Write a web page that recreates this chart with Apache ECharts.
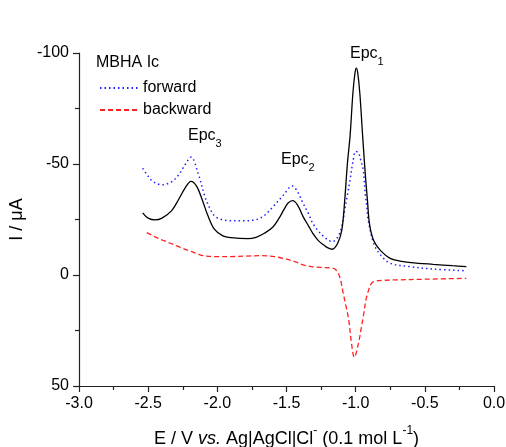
<!DOCTYPE html>
<html>
<head>
<meta charset="utf-8">
<script src="https://cdn.jsdelivr.net/npm/echarts@6/dist/echarts.min.js"></script>
<style>
  html, body { margin: 0; padding: 0; background: #fff; }
  #chart { width: 506px; height: 447px; }
</style>
</head>
<body>
<div id="chart"></div>
<script>
// Potential (V vs. Ag|AgCl|Cl-) and current (µA) pairs for each sweep
const solidCurve = [
  [-2.54, -28.0], [-2.50, -25.6], [-2.45, -24.8], [-2.40, -25.6], [-2.33, -29.0],
  [-2.28, -34.0], [-2.23, -39.5], [-2.19, -42.2], [-2.15, -40.0], [-2.11, -34.0],
  [-2.07, -27.0], [-2.02, -20.5], [-1.96, -17.6], [-1.90, -16.8], [-1.78, -16.4],
  [-1.72, -17.0], [-1.66, -18.8], [-1.60, -21.5], [-1.55, -26.0], [-1.52, -29.3],
  [-1.49, -32.3], [-1.455, -33.5], [-1.42, -31.5], [-1.38, -26.3], [-1.34, -22.0],
  [-1.31, -18.8], [-1.27, -15.5], [-1.23, -13.5], [-1.20, -12.2], [-1.17, -11.6],
  [-1.13, -14.3], [-1.10, -20.3], [-1.08, -33.0], [-1.06, -50.0], [-1.04, -63.0],
  [-1.02, -82.0], [-1.005, -91.0], [-0.995, -93.2], [-0.985, -91.0], [-0.97, -82.0],
  [-0.95, -63.0], [-0.93, -45.0], [-0.915, -33.8], [-0.90, -23.0], [-0.87, -15.5],
  [-0.82, -11.0], [-0.75, -7.5], [-0.68, -6.3], [-0.60, -5.6], [-0.44, -4.8],
  [-0.30, -4.2], [-0.20, -3.8]
];
const forwardCurve = [
  [-2.54, -48.1], [-2.50, -44.5], [-2.47, -42.3], [-2.40, -40.6], [-2.33, -42.0],
  [-2.28, -45.1], [-2.23, -50.0], [-2.19, -53.1], [-2.14, -46.0], [-2.09, -35.3],
  [-2.05, -29.5], [-2.02, -26.6], [-1.98, -25.2], [-1.92, -24.5], [-1.80, -24.4],
  [-1.73, -24.8], [-1.69, -25.6], [-1.65, -27.3], [-1.60, -30.6], [-1.52, -36.1],
  [-1.46, -40.1], [-1.42, -37.5], [-1.38, -32.3], [-1.34, -27.5], [-1.31, -23.3],
  [-1.27, -19.8], [-1.23, -17.3], [-1.20, -15.8], [-1.17, -15.0], [-1.13, -17.0],
  [-1.10, -22.0], [-1.08, -29.0], [-1.06, -36.0], [-1.04, -43.0], [-1.02, -51.0],
  [-1.00, -55.7], [-0.98, -55.0], [-0.96, -51.0], [-0.945, -47.3], [-0.93, -36.0],
  [-0.92, -31.0], [-0.91, -25.0], [-0.87, -14.3], [-0.82, -9.0], [-0.75, -5.3],
  [-0.61, -3.8], [-0.44, -2.7], [-0.20, -1.9]
];
const backwardCurve = [
  [-2.51, -19.1], [-2.45, -17.2], [-2.40, -15.8], [-2.34, -14.3], [-2.28, -12.8],
  [-2.23, -11.5], [-2.185, -10.5], [-2.13, -9.2], [-2.09, -8.6], [-2.00, -8.3],
  [-1.90, -8.3], [-1.80, -8.5], [-1.68, -8.7], [-1.60, -8.4], [-1.56, -8.0],
  [-1.50, -7.1], [-1.44, -6.0], [-1.38, -4.6], [-1.32, -3.8], [-1.25, -3.4],
  [-1.16, -3.0], [-1.12, 0.0], [-1.09, 8.3], [-1.07, 14.0], [-1.05, 20.3],
  [-1.03, 30.8], [-1.01, 37.1], [-0.98, 30.8], [-0.96, 24.0], [-0.945, 18.8],
  [-0.925, 11.0], [-0.91, 7.5], [-0.89, 4.2], [-0.87, 3.0], [-0.80, 2.4],
  [-0.70, 2.2], [-0.50, 1.9], [-0.20, 1.5]
];
const legendNames = ['forward', 'backward'];
const legendTitle = 'MBHA Ic';

const FONT = 'Liberation Sans, Arial, sans-serif';
const FS = 16;      // tick labels, legend, peak labels
const FS_NAME = 18; // axis titles
const chart = echarts.init(document.getElementById('chart'), null, { renderer: 'canvas' });

const axisCommon = {
  axisLine: { show: true, onZero: false, lineStyle: { color: '#222', width: 1.2 } },
  axisTick: { show: true, inside: false, length: 6, lineStyle: { color: '#222', width: 1.2 } },
  minorTick: { show: true, splitNumber: 2, length: 4, lineStyle: { color: '#222', width: 1.2 } },
  splitLine: { show: false },
  axisLabel: { color: '#000', fontFamily: FONT, fontSize: FS }
};

function peakLabel(text, sub, left, top) {
  return {
    type: 'text', left: left, top: top,
    style: {
      text: '{a|' + text + '}{b|' + sub + '}',
      rich: {
        a: { fontFamily: FONT, fontSize: FS, fill: '#000', lineHeight: 21, verticalAlign: 'top' },
        b: { fontFamily: FONT, fontSize: 11, fill: '#000', lineHeight: 11, verticalAlign: 'bottom' }
      }
    }
  };
}

chart.setOption({
  animation: false,
  backgroundColor: '#fff',
  grid: { left: 79, right: 12, top: 53, bottom: 61, containLabel: false, outerBoundsMode: 'none' },
  legend: {
    data: legendNames,
    orient: 'vertical',
    left: 94,
    top: 75,
    itemWidth: 38,
    itemHeight: 14,
    itemGap: 6,
    itemStyle: { opacity: 0 },
    textStyle: { color: '#000', fontFamily: FONT, fontSize: FS }
  },
  xAxis: Object.assign({}, axisCommon, {
    type: 'value',
    min: -3.0,
    max: 0.0,
    interval: 0.5,
    axisLabel: Object.assign({}, axisCommon.axisLabel, {
      margin: 10,
      formatter: v => v.toFixed(1)
    }),
    name: '{n|E / V }{i|vs.}{n| Ag|AgCl|Cl}{s|-}{n| (0.1 mol L}{s|-1}{n|)}',
    nameLocation: 'middle',
    nameGap: 39,
    nameTextStyle: {
      rich: {
        n: { fontFamily: FONT, fontSize: FS_NAME, color: '#000', lineHeight: 23, verticalAlign: 'bottom' },
        i: { fontFamily: FONT, fontSize: FS_NAME, color: '#000', fontStyle: 'italic', lineHeight: 23, verticalAlign: 'bottom' },
        s: { fontFamily: FONT, fontSize: 12, color: '#000', lineHeight: 12, verticalAlign: 'top' }
      }
    }
  }),
  yAxis: Object.assign({}, axisCommon, {
    type: 'value',
    inverse: true,
    min: -100,
    max: 50,
    interval: 50,
    axisLabel: Object.assign({}, axisCommon.axisLabel, { margin: 10 }),
    name: 'I / μA',
    nameLocation: 'middle',
    nameRotate: 90,
    nameGap: 52,
    nameTextStyle: { fontFamily: FONT, fontSize: FS_NAME, color: '#000' }
  }),
  graphic: [
    {
      type: 'text', left: 96, top: 55,
      style: { text: legendTitle, font: FS + 'px ' + FONT, fill: '#000' }
    },
    peakLabel('Epc', '1', 350, 46),
    peakLabel('Epc', '2', 281, 152),
    peakLabel('Epc', '3', 188, 128)
  ],
  series: [
    {
      name: 'solid',
      type: 'line',
      data: solidCurve,
      symbol: 'none',
      smooth: 0.35,
      lineStyle: { color: '#000', width: 1.3, type: 'solid' },
      z: 3
    },
    {
      name: 'forward',
      type: 'line',
      data: forwardCurve,
      symbol: 'none',
      smooth: 0.35,
      itemStyle: { color: '#2020ff' },
      lineStyle: { color: '#2020ff', width: 1.5, type: [1.5, 3] },
      z: 2
    },
    {
      name: 'backward',
      type: 'line',
      data: backwardCurve,
      symbol: 'none',
      smooth: 0.35,
      itemStyle: { color: '#ff2020' },
      lineStyle: { color: '#ff2020', width: 1.3, type: [5, 3] },
      z: 2
    }
  ]
});
</script>
</body>
</html>
